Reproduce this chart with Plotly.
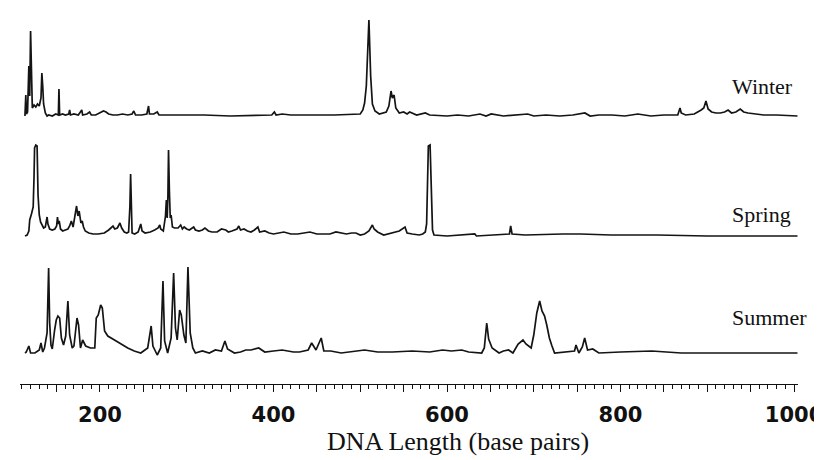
import plotly.graph_objects as go

# ---- data (DNA length in bp, signal height) ----
winter_bp = [113.5,114.5,115.2,116.5,118,119,120,121,122,124,126,128,130,132,133,134,135,137,139,141,145,149,152,152.7,153.5,157,160,164,165,166,170,175,179,180,185,188,190,195,200,204,207,210,215,220,226,232,237,239,241,248,254,256,257,262,266,268,275,285,300,320,350,380,398,401,403,410,420,440,470,500,503,505,507,510,512,514,517,522,530,533,535.5,537,539,541,545,550,554,557,560,565,575,580,
             600,612,625,638,645,651,665,680,693,700,714,730,745,759,765,775,790,805,820,835,850,
             866,868.6,870,875,885,890,893,896,898.5,901,905,910,915,920,924,928,933,938,942,947,955,965,980,1004]
winter_signal = [0,21,2,4,50,20,85,30,8,11,9,12,10,18,43,30,12,3,0,1,0,2,1,27,1,2,1,2,6,1,2,1,6,1,2,4,1,1,3,5,4,2,1,1,2,1,2,5,1,1,2,10,2,2,4,1,1,1,1,1,0,1,1,4,1,2,1,1,1,2,6,13,30,96,40,12,5,2,4,10,25,18,21,8,3,4,2,4,3,1,3,1,
                 0,1,0,2,0,2,0,1,2,0,1,0,1,3,0,1,1,0,2,0,1,
                 1,8,3,1,2,4,6,8,15,7,4,3,3,4,6,3,4,7,4,3,2,1,1,0]

spring_bp = [113.6,116,118,119,121,123,124,124.6,126,127.5,128.6,130,131.5,133,135,137,138,139,140,142,145,148,150,151,152,153,154.5,157,160,163,165,167,169,171,173,174.5,176,178,179.5,181,183,187,192,198,205,210,213,215,217,220,223,225,228,231,233,234.5,235.3,236.2,237,240,244,247,248.5,252,258,263,267,268.9,270,273,275.5,276.5,277.5,278.3,279,280,281,282,283.5,
             286,290,293,295,297,300,303,306,308,310,314,318,321,325,329,335,340,345,348,352,358,360,362,366,370,374,378,382,384,390,395,400,405,412,420,428,435,442,450,457,465,472,478,484,490,495,500,505,510,
             514,516,520,527,535,545,551.6,554,560,568,572,575,576.5,577.5,578.5,580.5,581.5,582.3,583.3,585,600,632,634,672,673.4,675,690,733,754,789,842,900,1004]
spring_signal = [0,1,5,16,22,29,60,88,91,90,41,21,14,11,8,9,14,19,12,7,6,7,10,19,12,15,7,5,6,7,10,15,9,18,30,20,25,13,15,9,5,3,2,2,3,6,8,10,7,8,13,8,4,3,4,30,62,30,3,2,4,12,5,3,4,6,8,11,7,5,20,36,18,40,86,45,18,21,9,
                 8,8,11,7,9,7,6,8,9,6,5,6,8,5,4,4,7,6,4,5,7,10,6,7,5,4,6,9,4,5,3,2,3,4,2,2,3,4,2,2,2,4,3,2,3,3,1,2,5,
                 11,7,4,1,3,5,9,3,2,1,2,4,12,70,90,91,55,40,6,1,0,2,0,2,10,2,1,2,2,1,1,0,0]

summer_bp = [113.6,115,118,120,125,130,132,134,136,139,140.8,142,143.5,145,147.7,149.6,151.5,153.5,155.5,158,160.5,163,165,168,170,173.5,175.3,177.5,180,183.5,189,194,195.7,198,200.8,202.7,205.3,209,216.7,224,232,239.5,247,255,259,261,266,270,272.6,274.5,278,282,284.9,287,289,291.8,293.7,296.7,299,301.4,304,
             307,310,318,326,333,340,344,347,355,362,368,374,383,390,400,410,423,430,440,444,449,455,458,466,478,490,505,520,537,560,580,595,605,617,625,640,
             643,645.8,648,652,660,665,671,676,682,687.6,691,697,700,703.5,706.8,709.5,712.5,715,718,721,724,747,748.7,752,756,758.7,762,768,775,800,836,870,1004]
summer_signal = [0,1,7,0,0,3,10,1,5,20,85,30,8,4,23,33,37,35,15,8,17,52,18,5,7,35,28,5,13,7,5,5,35,38,48,45,22,17,13,9,5,2,0,5,27,7,-2,5,72,12,0,15,80,25,13,43,38,18,10,86,20,
                 5,0,2,0,3,2,12,4,0,1,3,3,5,1,2,3,1,1,3,10,3,15,2,2,0,1,3,1,1,2,1,3,2,3,1,0,
                 5,30,14,5,0,2,3,0,9,13,9,5,18,40,52,42,37,28,15,7,0,2,8,0,6,15,3,4,0,1,2,0,0]

assert len(winter_bp) == len(winter_signal)
assert len(spring_bp) == len(spring_signal)
assert len(summer_bp) == len(summer_signal)

season_names = ["Winter", "Spring", "Summer"]
tick_values = [200, 400, 600, 800, 1000]
x_title = "DNA Length (base pairs)"

# ---- layout constants (pixel-based, 1 y unit = 1 px) ----
offsets = {"Winter": 268, "Spring": 148, "Summer": 31}
label_y = {"Winter": 298, "Spring": 170, "Summer": 67}

series = {"Winter": (winter_bp, winter_signal),
          "Spring": (spring_bp, spring_signal),
          "Summer": (summer_bp, summer_signal)}

fig = go.Figure()
for name in season_names:
    xs, hs = series[name]
    fig.add_trace(go.Scatter(
        x=xs, y=[offsets[name] + h for h in hs], mode="lines",
        line=dict(color="#141414", width=1.7), name=name, showlegend=False,
        hoverinfo="skip"))
    fig.add_annotation(x=926, y=label_y[name], xref="x", yref="y",
                       text=name, showarrow=False, xanchor="left", yanchor="middle",
                       font=dict(family="Liberation Serif, Times New Roman, serif",
                                 size=22, color="#111111"))

major_vals = list(range(150, 1001, 50))
major_text = [str(v) if v in tick_values else "" for v in major_vals]

fig.update_xaxes(
    range=[107.8, 1004.6], showgrid=False, zeroline=False,
    showline=True, linecolor="#111111", linewidth=1,
    ticks="outside", ticklen=7, tickwidth=1, tickcolor="#111111",
    tickvals=major_vals, ticktext=major_text, ticklabelstandoff=5,
    tickfont=dict(family="DejaVu Sans, Arial, sans-serif", size=21,
                  color="#111111", weight="bold"),
    minor=dict(dtick=10, tick0=0, ticks="outside", ticklen=4,
               tickcolor="#111111", tickwidth=1),
)
fig.update_yaxes(range=[0, 376], visible=False, showgrid=False, zeroline=False)

# axis title placed in pixel terms below the plot area
fig.add_annotation(x=(450 - 12) / (822 - 12 - 32), y=-(433 - 376) / 376,
                   xref="paper", yref="paper", text=x_title,
                   showarrow=False, xanchor="center", yanchor="middle",
                   font=dict(family="Liberation Serif, Times New Roman, serif",
                             size=26, color="#111111"))

fig.update_layout(width=822, height=460, margin=dict(l=12, r=32, t=0, b=84),
                  plot_bgcolor="white", paper_bgcolor="white")

fig.write_html("out.html")
